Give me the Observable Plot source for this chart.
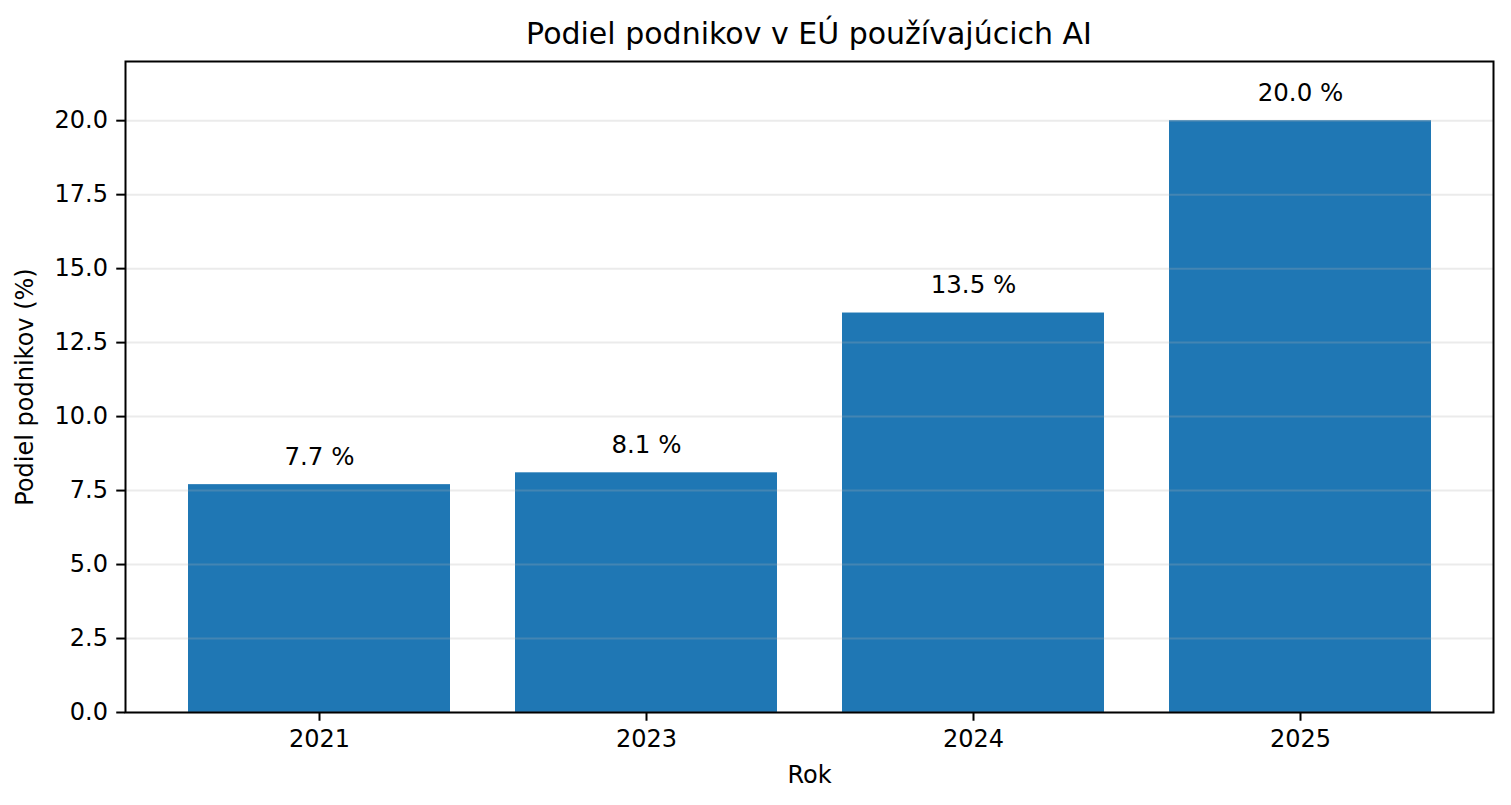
<!DOCTYPE html>
<html>
<head>
<meta charset="utf-8">
<script src="https://cdn.jsdelivr.net/npm/d3@7"></script>
<script src="https://cdn.jsdelivr.net/npm/@observablehq/plot@0.6"></script>
<style>
  html, body { margin: 0; padding: 0; background: white; }
  #title {
    height: 50px; box-sizing: border-box;
    padding-top: 19px; padding-left: 125px; padding-right: 18px;
    font-family: "DejaVu Sans", sans-serif; font-size: 30px; line-height: 30px;
    text-align: center; color: black; white-space: nowrap;
  }
</style>
</head>
<body>
<div id="title">Podiel podnikov v EÚ používajúcich AI</div>
<div id="chart"></div>
<script>
const years = ["2021", "2023", "2024", "2025"];
const shares = [7.7, 8.1, 13.5, 20.0];
const valueLabels = ["7.7 %", "8.1 %", "13.5 %", "20.0 %"];
const yTicks = [0, 2.5, 5, 7.5, 10, 12.5, 15, 17.5, 20];

const data = years.map((year, i) => ({year, share: shares[i], label: valueLabels[i]}));

const chart = Plot.plot({
  width: 1511,
  height: 755,
  marginTop: 11,
  marginBottom: 93,
  marginLeft: 125,
  marginRight: 18,
  style: {fontFamily: "DejaVu Sans", fontSize: "24px", background: "white", color: "black", overflow: "visible"},
  x: {type: "band", domain: years, paddingInner: 0.2, paddingOuter: 0.19, label: "Rok"},
  y: {domain: [0, 22], label: "Podiel podnikov (%)"},
  marks: [
    Plot.barY(data, {x: "year", y: "share", fill: "#1f77b4"}),
    Plot.ruleY(yTicks, {stroke: "#b0b0b0", strokeOpacity: 0.25, strokeWidth: 2}),
    Plot.text(data, {x: "year", y: "share", text: "label", lineAnchor: "bottom", dy: -20, fontSize: 24.5, fill: "black"}),
    Plot.axisX({tickSize: 8.75, tickPadding: 9, strokeWidth: 2, fontSize: 24, label: "Rok", labelAnchor: "center", labelOffset: 70, labelArrow: "none"}),
    Plot.axisY({ticks: yTicks, tickFormat: d3.format(".1f"), tickSize: 8.75, tickPadding: 8.75, strokeWidth: 2, fontSize: 24,
      label: "Podiel podnikov (%)", labelAnchor: "center", labelOffset: 110, labelArrow: "none"}),
    Plot.frame({stroke: "black", strokeWidth: 2})
  ]
});
document.getElementById("chart").appendChild(chart);
</script>
</body>
</html>
